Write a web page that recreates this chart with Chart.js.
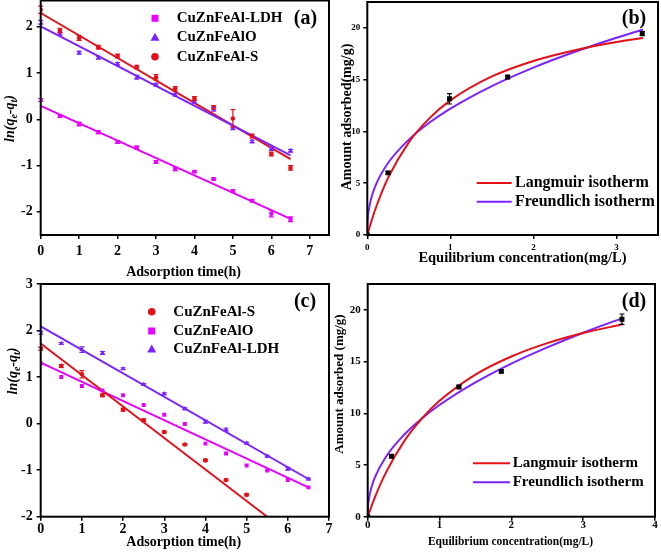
<!DOCTYPE html>
<html>
<head>
<meta charset="utf-8">
<title>Adsorption kinetics and isotherms</title>
<script src="https://cdn.jsdelivr.net/npm/chart.js@4.4.1/dist/chart.umd.min.js"></script>
<style>
  body { margin: 0; background: #fff; }
  #wrap { position: relative; width: 661px; height: 553px; overflow: hidden; }
  #wrap canvas { position: absolute; left: -20px; top: -20px; width: 701px; height: 593px; }
</style>
</head>
<body>
<div id="wrap">
  <canvas id="chartA" width="701" height="593"></canvas>
  <canvas id="chartB" width="701" height="593"></canvas>
  <canvas id="chartC" width="701" height="593"></canvas>
  <canvas id="chartD" width="701" height="593"></canvas>
</div>
<script>
// ---------- Panel (a): ln(qe-qt) vs time ----------
const timeA = [0, 0.5, 1, 1.5, 2, 2.5, 3, 3.5, 4, 4.5, 5, 5.5, 6, 6.5];
const ldhA = [0.42, 0.07, -0.10, -0.28, -0.49, -0.61, -0.92, -1.08, -1.13, -1.29, -1.55, -1.76, -2.04, -2.16];
const ldhErrA = [0.03, 0.03, 0.04, 0.03, 0.03, 0.03, 0.03, 0.03, 0.02, 0.02, 0.03, 0.02, 0.07, 0.05];
const aloA = [2.10, 1.85, 1.44, 1.33, 1.20, 0.91, 0.75, 0.53, 0.38, 0.22, -0.19, -0.48, -0.64, -0.68];
const aloErrA = [0.04, 0.03, 0.03, 0.03, 0.03, 0.04, 0.03, 0.03, 0.03, 0.04, 0.03, 0.03, 0.03, 0.03];
const sA = [2.37, 1.92, 1.76, 1.56, 1.37, 1.13, 0.91, 0.66, 0.45, 0.26, 0.02, -0.36, -0.75, -1.05];
const sErrA = [0.08, 0.05, 0.05, 0.04, 0.04, 0.04, 0.06, 0.05, 0.04, 0.04, 0.19, 0.04, 0.04, 0.05];
const fitTimeA = [0, 6.5];
const ldhFitA = [0.29, -2.15];
const aloFitA = [2.01, -0.78];
const sFitA = [2.30, -0.86];

// ---------- Panel (b): isotherm ----------
const ceB = [0, 0.25, 0.99, 1.69, 3.31];
const qeB = [0, 6.0, 13.15, 15.25, 19.45];
const errB = [0, 0.15, 0.5, 0.15, 0.2];
const langCB = [0, 0.05, 0.1, 0.25, 0.5, 0.75, 1, 1.5, 2, 2.5, 3, 3.32];
const langQB = [0, 1.35, 2.56, 5.51, 8.95, 11.29, 13.0, 15.31, 16.81, 17.85, 18.63, 19.02];
const freCB = [0, 0.005, 0.02, 0.05, 0.1, 0.25, 0.5, 0.75, 1, 1.5, 2, 2.5, 3, 3.32];
const freQB = [0, 1.42, 2.50, 3.62, 4.80, 6.95, 9.21, 10.86, 12.2, 14.38, 16.16, 17.69, 19.05, 19.85];

// ---------- Panel (c): ln(qe-qt) vs time ----------
const timeC = [0, 0.5, 1, 1.5, 2, 2.5, 3, 3.5, 4, 4.5, 5, 5.5, 6, 6.5];
const sC = [1.61, 1.24, 1.06, 0.61, 0.30, 0.07, -0.18, -0.45, -0.79, -1.21, -1.53];
const sErrC = [0.03, 0.03, 0.08, 0.03, 0.03, 0.03, 0.02, 0.02, 0.02, 0.02, 0.02];
const aloC = [1.30, 1.00, 0.81, 0.71, 0.61, 0.40, 0.19, -0.01, -0.43, -0.64, -0.90, -1.01, -1.21, -1.37];
const ldhC = [1.95, 1.72, 1.59, 1.52, 1.18, 0.84, 0.64, 0.32, 0.04, -0.13, -0.42, -0.70, -0.97, -1.19];
const ldhErrC = [0.03, 0.02, 0.06, 0.03, 0.02, 0.02, 0.02, 0.02, 0.03, 0.03, 0.02, 0.02, 0.03, 0.02];
const fitTimeSC = [0, 5.5];
const sFitC = [1.72, -2.0];
const fitTimeC = [0, 6.5];
const aloFitC = [1.31, -1.37];
const ldhFitC = [2.09, -1.19];

// ---------- Panel (d): isotherm ----------
const ceD = [0, 0.33, 1.27, 1.86, 3.54];
const qeD = [0, 5.85, 12.55, 14.05, 19.1];
const errD = [0, 0.15, 0.15, 0.15, 0.5];
const langCD = [0, 0.1, 0.25, 0.5, 0.75, 1, 1.5, 2, 2.5, 3, 3.55];
const langQD = [0, 1.87, 4.21, 7.21, 9.45, 11.2, 13.74, 15.49, 16.78, 17.76, 18.6];
const freCD = [0, 0.005, 0.02, 0.05, 0.1, 0.25, 0.5, 0.75, 1, 1.5, 2, 2.5, 3, 3.55];
const freQD = [0, 0.97, 1.83, 2.77, 3.80, 5.75, 7.88, 9.48, 10.8, 12.98, 14.80, 16.37, 17.79, 19.2];

// ---------- styling ----------
const OFF = 20;               // canvases are shifted by this much
const MAG = '#e800ff';
const VIO = '#7a22ff';
const RED = '#e31019';
const FONT = "'Liberation Serif', 'Times New Roman', serif";

function pts(xs, ys) {
    return ys.map((y, i) => ({ x: xs[i], y: y }));
}

// scatter marks with optional error bars
function marks(label, xs, ys, errs, color, style, r) {
    return {
        label: label, data: pts(xs, ys), errors: errs,
        backgroundColor: color, borderColor: color, borderWidth: 0,
        pointStyle: style, pointRadius: r, pointHoverRadius: r, showLine: false
    };
}

// fitted line / curve
function fit(label, xs, ys, color, smooth) {
    return {
        label: label, data: pts(xs, ys),
        borderColor: color, backgroundColor: color, borderWidth: 2,
        pointRadius: 0, pointHoverRadius: 0, showLine: true,
        tension: 0, cubicInterpolationMode: smooth ? 'monotone' : 'default'
    };
}

function axis(min, max, step, size, pad, isX) {
    return {
        type: 'linear', min: min, max: max,
        ticks: {
            stepSize: step, includeBounds: false, color: '#000', padding: pad,
            font: { family: FONT, size: size, weight: 'bold' }
        },
        grid: { drawOnChartArea: false, color: '#000', lineWidth: 1.5, tickLength: 4 },
        border: { display: false },
        afterFit: s => { if (isX) s.height = 30; else s.width = 30; }
    };
}

function text(ctx, str, x, y, size, style) {
    ctx.font = (style || 'bold') + ' ' + size + 'px ' + FONT;
    ctx.textAlign = 'center';
    ctx.textBaseline = 'middle';
    ctx.fillText(str, x, y);
}

// ln(q_e - q_t) with subscripts, rotated
function drawLn(ctx, cx, cy, size) {
    const big = 'italic bold ' + size + 'px ' + FONT;
    const small = 'italic bold ' + Math.round(size * 0.7) + 'px ' + FONT;
    const parts = [['ln(q', big, 0], ['e', small, 1], ['-q', big, 0], ['t', small, 1], [')', big, 0]];
    ctx.save();
    ctx.translate(cx, cy);
    ctx.rotate(-Math.PI / 2);
    let w = 0;
    parts.forEach(p => { ctx.font = p[1]; w += ctx.measureText(p[0]).width; });
    let x = -w / 2;
    ctx.textAlign = 'left';
    ctx.textBaseline = 'middle';
    parts.forEach(p => {
        ctx.font = p[1];
        ctx.fillText(p[0], x, p[2] ? size * 0.3 : 0);
        x += ctx.measureText(p[0]).width;
    });
    ctx.restore();
}

function legendMark(ctx, style, color, x, y) {
    ctx.fillStyle = color;
    ctx.beginPath();
    if (style === 'rect') {
        ctx.rect(x - 3.5, y - 3.5, 7, 7);
    } else if (style === 'triangle') {
        ctx.moveTo(x, y - 4.5);
        ctx.lineTo(x + 4.5, y + 3.5);
        ctx.lineTo(x - 4.5, y + 3.5);
        ctx.closePath();
    } else {
        ctx.arc(x, y, 3.8, 0, Math.PI * 2);
    }
    ctx.fill();
}

// frame, error bars, titles and legend for one panel
function panelPlugin(p) {
    return {
        id: 'panel',
        afterDatasetsDraw(chart) {
            const ctx = chart.ctx;
            const ys = chart.scales.y;
            chart.data.datasets.forEach((ds, i) => {
                if (!ds.errors) return;
                const meta = chart.getDatasetMeta(i);
                ctx.save();
                ctx.strokeStyle = ds.backgroundColor;
                ctx.lineWidth = 1.2;
                meta.data.forEach((pt, j) => {
                    const e = ds.errors[j];
                    if (!e) return;
                    const v = ds.data[j].y;
                    const y1 = ys.getPixelForValue(v + e);
                    const y2 = ys.getPixelForValue(v - e);
                    ctx.beginPath();
                    ctx.moveTo(pt.x, y1); ctx.lineTo(pt.x, y2);
                    ctx.moveTo(pt.x - 2.5, y1); ctx.lineTo(pt.x + 2.5, y1);
                    ctx.moveTo(pt.x - 2.5, y2); ctx.lineTo(pt.x + 2.5, y2);
                    ctx.stroke();
                });
                ctx.restore();
            });
        },
        afterDraw(chart) {
            const ctx = chart.ctx;
            const a = chart.chartArea;
            ctx.save();
            ctx.strokeStyle = '#000';
            ctx.lineWidth = 2;
            ctx.strokeRect(a.left, a.top, a.right - a.left, a.bottom - a.top);

            // everything below in page coordinates
            ctx.translate(OFF, OFF);
            ctx.fillStyle = '#000';
            text(ctx, p.tag, p.tagX, p.tagY, 20);
            text(ctx, p.xTitle, p.xtX, p.xtY, p.xtSize);
            if (p.lnTitle) {
                drawLn(ctx, p.ytX, p.ytY, p.ytSize);
            } else {
                ctx.save();
                ctx.translate(p.ytX, p.ytY);
                ctx.rotate(-Math.PI / 2);
                text(ctx, p.yTitle, 0, 0, p.ytSize);
                ctx.restore();
            }

            // legend
            p.legend.forEach(item => {
                const ds = chart.data.datasets[item.ds];
                if (p.legendLine) {
                    ctx.strokeStyle = ds.borderColor;
                    ctx.lineWidth = 2;
                    ctx.beginPath();
                    ctx.moveTo(p.lgX1, item.y);
                    ctx.lineTo(p.lgX2, item.y);
                    ctx.stroke();
                } else {
                    legendMark(ctx, ds.pointStyle, ds.backgroundColor, p.lgX1, item.y);
                }
                ctx.fillStyle = '#000';
                ctx.font = 'bold ' + p.lgSize + 'px ' + FONT;
                ctx.textAlign = 'left';
                ctx.textBaseline = 'middle';
                ctx.fillText(ds.label, p.lgText, item.y);
            });
            ctx.restore();
        }
    };
}

// box = [left, top, right, bottom] of the plot area in page pixels
function makeChart(id, box, datasets, xAxis, yAxis, p) {
    const ctx = document.getElementById(id).getContext('2d');
    return new Chart(ctx, {
        type: 'scatter',
        data: { datasets: datasets },
        options: {
            responsive: false,
            animation: false,
            events: [],
            layout: {
                padding: {
                    left: box[0] + OFF - 30,
                    top: box[1] + OFF,
                    right: 701 - OFF - box[2],
                    bottom: 593 - OFF - box[3] - 30
                }
            },
            scales: { x: xAxis, y: yAxis },
            plugins: { legend: { display: false }, tooltip: { enabled: false } }
        },
        plugins: [panelPlugin(p)]
    });
}

// Panel (a)
makeChart('chartA', [40.7, 0.5, 329, 235], [
    marks('CuZnFeAl-LDH', timeA, ldhA, ldhErrA, MAG, 'rect', 2.8),
    marks('CuZnFeAlO', timeA, aloA, aloErrA, VIO, 'triangle', 2.8),
    marks('CuZnFeAl-S', timeA, sA, sErrA, RED, 'circle', 2.3),
    fit('LDH fit', fitTimeA, ldhFitA, MAG, false),
    fit('AlO fit', fitTimeA, aloFitA, VIO, false),
    fit('S fit', fitTimeA, sFitA, RED, false)
], axis(0, 7.5, 1, 14, 4, true), axis(-2.5, 2.57, 1, 14, 4, false), {
    tag: '(a)', tagX: 305.5, tagY: 18.5,
    xTitle: 'Adsorption time(h)', xtX: 183.5, xtY: 272.7, xtSize: 14,
    lnTitle: true, ytX: 10.5, ytY: 118.5, ytSize: 14,
    legend: [{ ds: 0, y: 18.3 }, { ds: 1, y: 37.3 }, { ds: 2, y: 56.7 }],
    lgX1: 155, lgText: 176.7, lgSize: 15
});

// Panel (b)
makeChart('chartB', [367.3, 2, 658, 235], [
    marks('data', ceB, qeB, errB, '#000', 'rect', 3.5),
    fit('Langmuir isotherm', langCB, langQB, RED, true),
    fit('Freundlich isotherm', freCB, freQB, VIO, true)
], axis(0, 3.5, 1, 9, 3, true), axis(0, 22.5, 5, 9, 3, false), {
    tag: '(b)', tagX: 634, tagY: 19,
    xTitle: 'Equilibrium concentration(mg/L)', xtX: 522.5, xtY: 258, xtSize: 14.5,
    yTitle: 'Amount adsorbed(mg/g)', ytX: 347.5, ytY: 117, ytSize: 14,
    legendLine: true,
    legend: [{ ds: 1, y: 183 }, { ds: 2, y: 201.7 }],
    lgX1: 476.7, lgX2: 511.7, lgText: 515, lgSize: 16
});

// Panel (c)
makeChart('chartC', [40.7, 284, 329, 516.7], [
    marks('CuZnFeAl-S', timeC, sC, sErrC, RED, 'circle', 2.3),
    marks('CuZnFeAlO', timeC, aloC, null, MAG, 'rect', 2.8),
    marks('CuZnFeAl-LDH', timeC, ldhC, ldhErrC, VIO, 'triangle', 2.8),
    fit('S fit', fitTimeSC, sFitC, RED, false),
    fit('AlO fit', fitTimeC, aloFitC, MAG, false),
    fit('LDH fit', fitTimeC, ldhFitC, VIO, false)
], axis(0, 7, 1, 14, 0, true), axis(-2, 3, 1, 14, 4, false), {
    tag: '(c)', tagX: 305, tagY: 302,
    xTitle: 'Adsorption time(h)', xtX: 183.7, xtY: 542.7, xtSize: 14,
    lnTitle: true, ytX: 13, ytY: 371, ytSize: 14,
    legend: [{ ds: 0, y: 311.7 }, { ds: 1, y: 331 }, { ds: 2, y: 349 }],
    lgX1: 151.7, lgText: 173.3, lgSize: 15
});

// Panel (d)
makeChart('chartD', [367.7, 284, 655, 516.7], [
    marks('data', ceD, qeD, errD, '#000', 'rect', 3.5),
    fit('Langmuir isotherm', langCD, langQD, RED, true),
    fit('Freundlich isotherm', freCD, freQD, VIO, true)
], axis(0, 4, 1, 11, -2, true), axis(0, 22.5, 5, 11, 3, false), {
    tag: '(d)', tagX: 634, tagY: 301.7,
    xTitle: 'Equilibrium concentration(mg/L)', xtX: 510.5, xtY: 541.7, xtSize: 11.5,
    yTitle: 'Amount adsorbed (mg/g)', ytX: 339.5, ytY: 384, ytSize: 13,
    legendLine: true,
    legend: [{ ds: 1, y: 463.3 }, { ds: 2, y: 482.3 }],
    lgX1: 473, lgX2: 510, lgText: 512.7, lgSize: 15
});
</script>
</body>
</html>
